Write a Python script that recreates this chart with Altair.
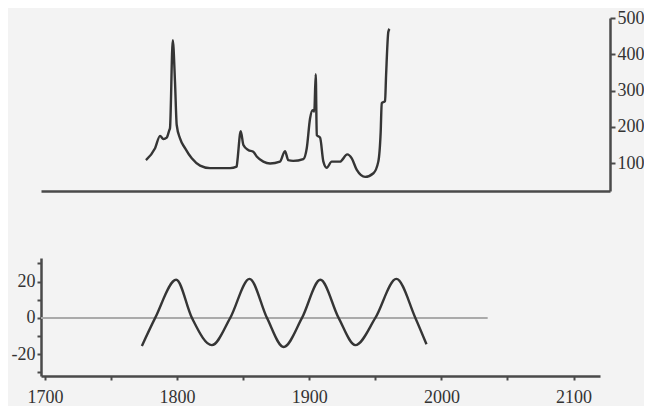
import altair as alt
import pandas as pd

# Top panel: long price series
price_years = [1776.5, 1783.4, 1787.2, 1789.7, 1792.2, 1794.2, 1794.7, 1796.8, 1798.5, 1799.8,
               1802.3, 1806.1, 1811.2, 1817.5, 1825.0, 1840.2, 1845.2, 1845.7, 1848.3, 1850.3,
               1854.0, 1857.8, 1860.4, 1865.4, 1870.5, 1878.0, 1881.8, 1884.3, 1888.0, 1895.7,
               1898.3, 1900.8, 1902.8, 1904.0, 1905.1, 1905.9, 1908.4, 1910.9, 1913.4, 1917.2,
               1923.5, 1929.0, 1932.4, 1936.2, 1942.5, 1948.8, 1952.5, 1954.3, 1955.1, 1957.6,
               1958.4, 1960.1, 1961.0]
price_values = [108, 141, 175, 166, 170, 191, 196, 439, 324, 205,
                168, 141, 113, 93, 86, 86, 90, 104, 188, 150,
                136, 131, 118, 104, 99, 104, 133, 108, 106, 111,
                141, 223, 246, 242, 345, 177, 170, 104, 87, 104,
                104, 124, 113, 81, 62, 72, 104, 186, 265, 271,
                343, 462, 470]

# Bottom panel: cycle component
cycle_years = [1773.3, 1783.4, 1799.3, 1811.2, 1826.3, 1840.2, 1854.8, 1868.0, 1880.6,
               1894.5, 1908.4, 1922.2, 1934.9, 1950.0, 1965.9, 1980.3, 1988.7]
cycle_values = [-15.5, 0, 21, 0, -15, 0, 21.5, 0, -16,
                0, 21, 0, -15, 0, 21.5, 0, -14.5]

zero_start = [1697]
zero_end = [2035]
zero_level = [0]

x_ticks = [1700, 1750, 1800, 1850, 1900, 1950, 2000, 2050, 2100]
y_ticks_bottom = [-30, -20, -10, 0, 10, 20, 30]
y_ticks_top = [100, 200, 300, 400, 500]

FONT = "Liberation Serif"
INK = "#353535"
AXIS = "#4a4a4a"

top_df = pd.DataFrame({"year": price_years, "value": price_values})
cycle_df = pd.DataFrame({"year": cycle_years, "value": cycle_values})
zero_df = pd.DataFrame({"year": zero_start, "year2": zero_end, "value": zero_level})

top = alt.Chart(top_df).mark_line(
    color=INK, strokeWidth=2.4, interpolate="monotone"
).encode(
    x=alt.X("year:Q",
            scale=alt.Scale(domain=[1697, 2128], nice=False, zero=False),
            axis=alt.Axis(labels=False, ticks=False, grid=False, title=None,
                          domainWidth=2.5, domainColor=AXIS)),
    y=alt.Y("value:Q",
            scale=alt.Scale(domain=[23, 500], nice=False, zero=False),
            axis=alt.Axis(orient="right", values=y_ticks_top, grid=False, title=None,
                          domainWidth=2.5, domainColor=AXIS, tickColor=AXIS,
                          tickSize=5, tickWidth=2, labelPadding=2, labelOverlap=False,
                          labelFont=FONT, labelFontSize=18, labelColor="#333"))
).properties(width=569, height=173)

x_bottom = alt.X("year:Q",
                 scale=alt.Scale(domain=[1697, 2120], nice=False, zero=False),
                 axis=alt.Axis(values=x_ticks, grid=False, title=None,
                               labelExpr="datum.value % 100 == 0 ? '' + datum.value : ''",
                               labelOverlap=False,
                               domainWidth=2.5, domainColor=AXIS, tickColor=AXIS,
                               tickSize=4, tickWidth=2, labelPadding=8,
                               labelFont=FONT, labelFontSize=18, labelColor="#333"))
y_bottom = alt.Y("value:Q",
                 scale=alt.Scale(domain=[-32, 33], nice=False, zero=False),
                 axis=alt.Axis(values=y_ticks_bottom, grid=False, title=None,
                               labelExpr="(datum.value == 20 || datum.value == 0 || datum.value == -20) ? '' + datum.value : ''",
                               labelOverlap=False,
                               domainWidth=2.5, domainColor=AXIS, tickColor=AXIS,
                               tickSize=4, tickWidth=2, labelPadding=2,
                               labelFont=FONT, labelFontSize=18, labelColor="#333"))

cycle_line = alt.Chart(cycle_df).mark_line(
    color=INK, strokeWidth=2.4, interpolate="monotone"
).encode(x=x_bottom, y=y_bottom)

zero_rule = alt.Chart(zero_df).mark_rule(color="#aaaaaa", strokeWidth=2).encode(
    x=x_bottom, x2="year2:Q", y=y_bottom,
)

bottom = alt.layer(zero_rule, cycle_line).properties(width=559, height=118)

chart = alt.vconcat(top, bottom, spacing=63).properties(
    padding={"top": 1, "left": 3, "right": 0, "bottom": 0}
).configure(background="#f3f3f3").configure_view(stroke=None)

chart.save("out.html", embed_options={"renderer": "svg", "actions": False})
